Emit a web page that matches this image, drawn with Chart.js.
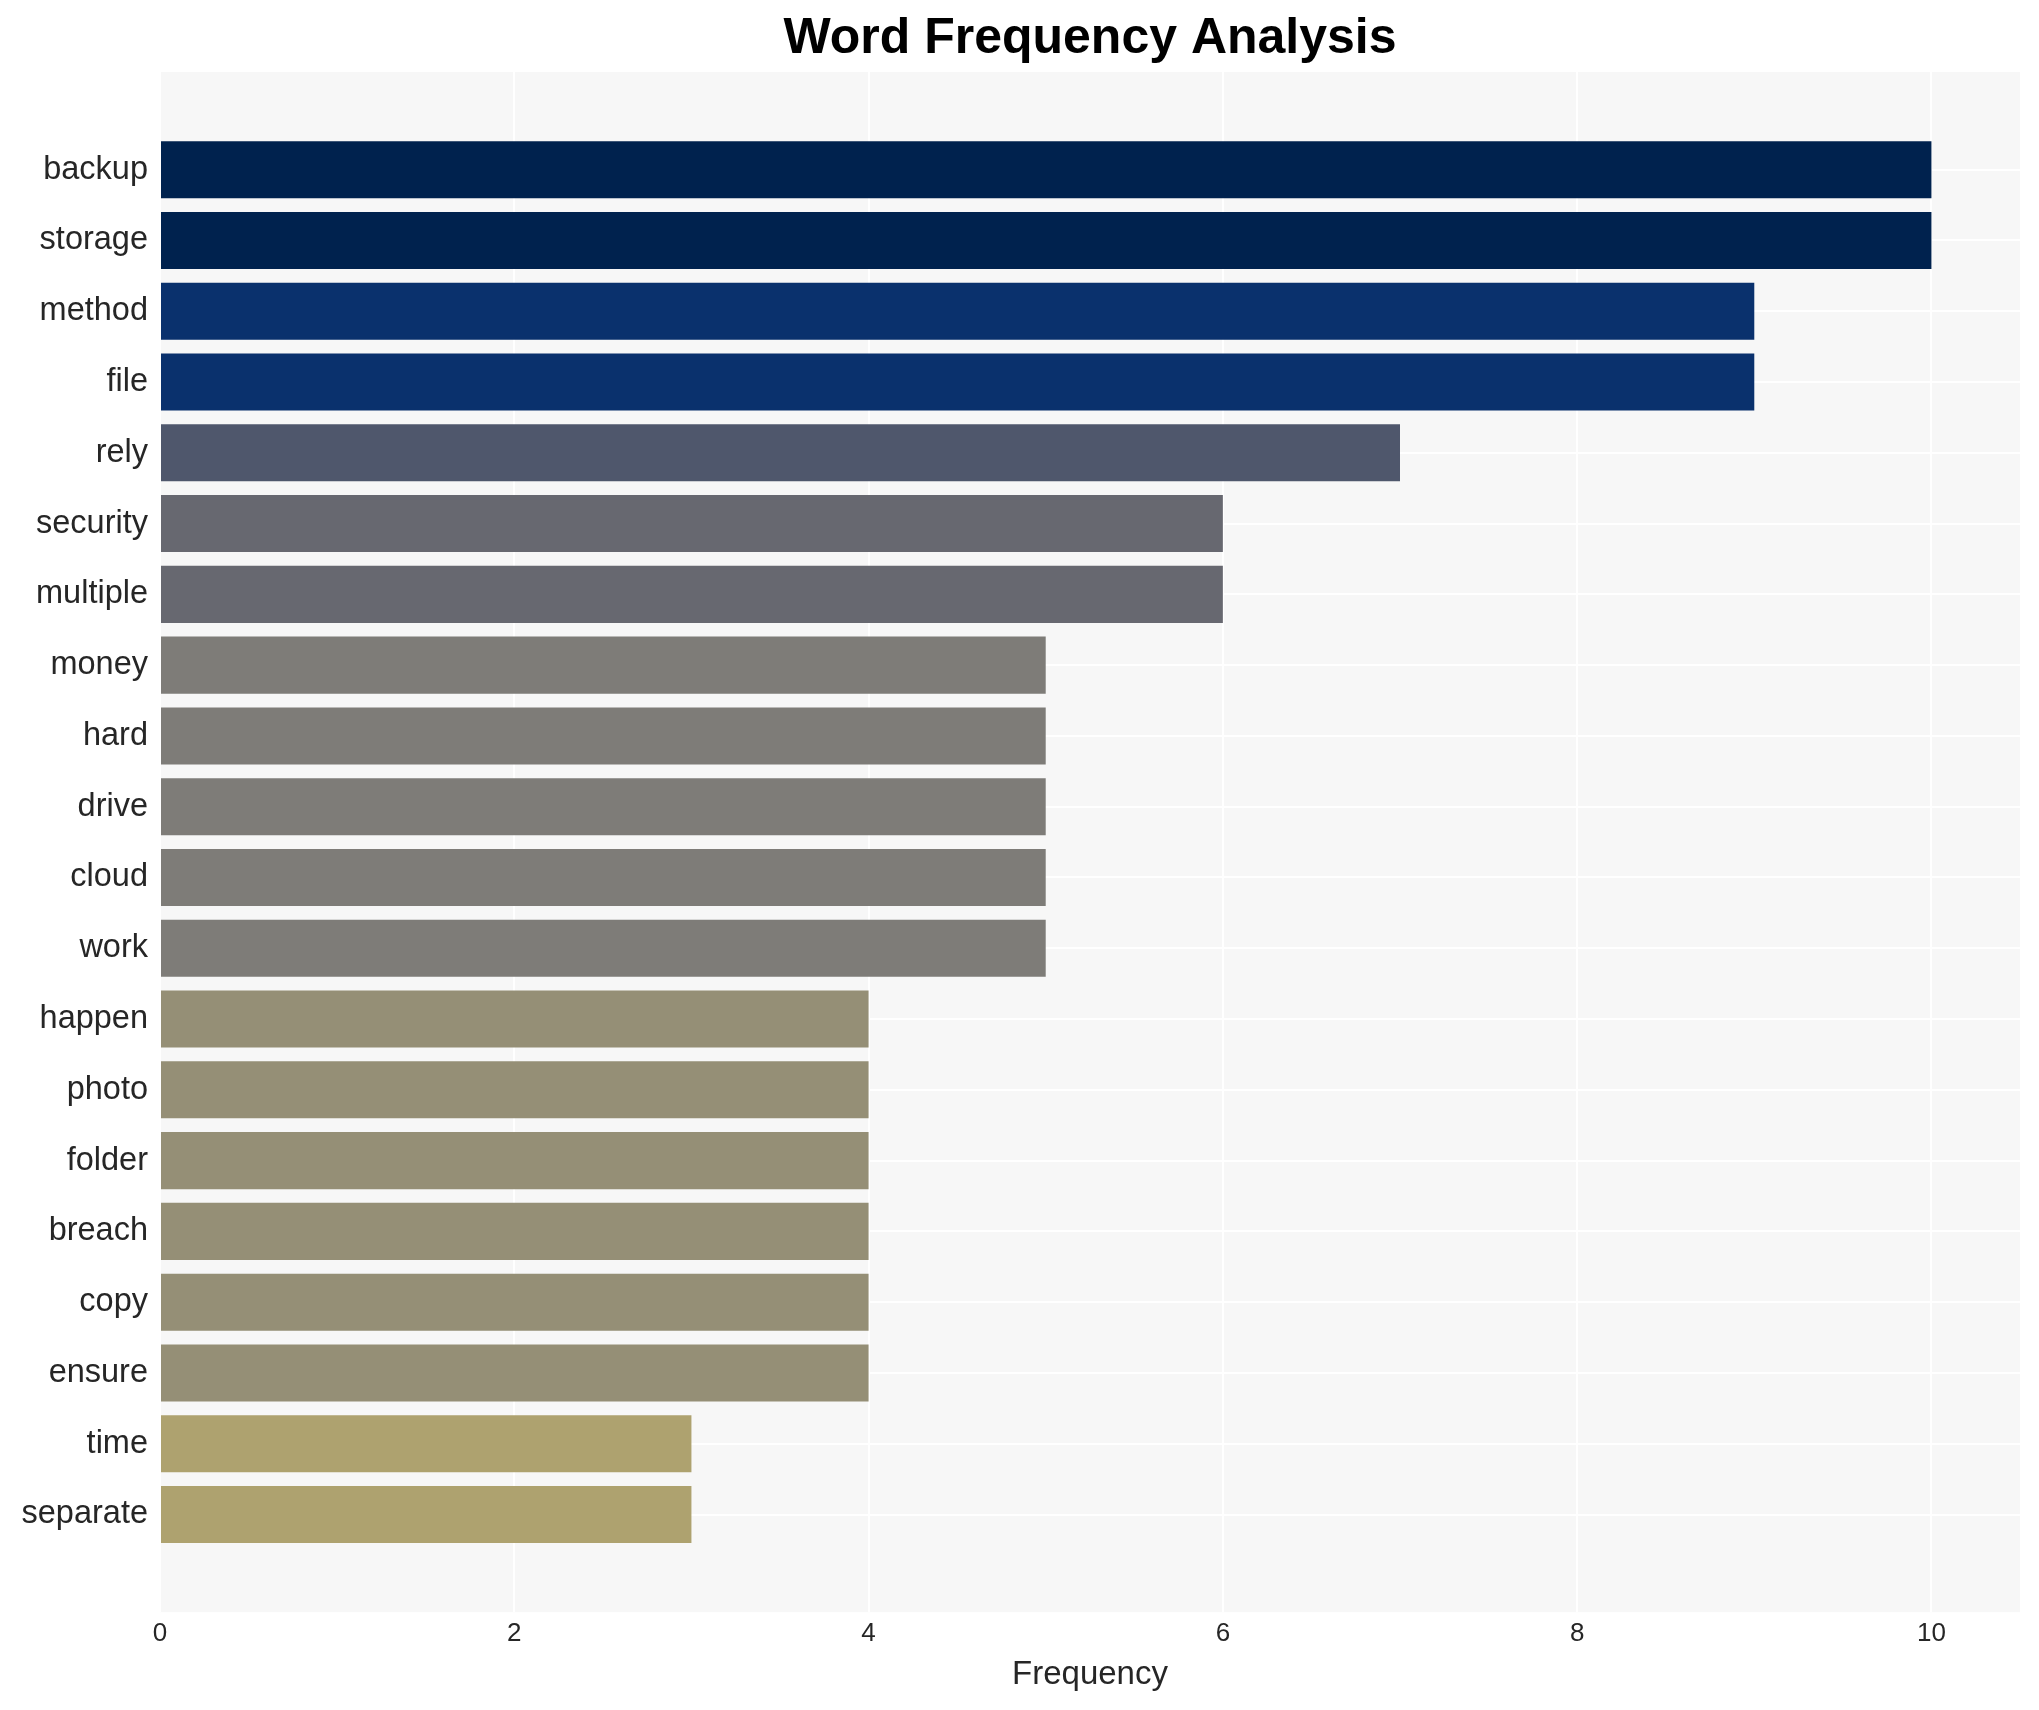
<!DOCTYPE html>
<html>
<head>
<meta charset="utf-8">
<title>Word Frequency Analysis</title>
<script src="https://cdn.jsdelivr.net/npm/chart.js@4"></script>
<style>
  html, body { margin: 0; padding: 0; background: #ffffff; }
  #wrap { width: 2039px; height: 1710px; position: relative; }
</style>
</head>
<body>
<div id="wrap"><canvas id="chart"></canvas></div>
<script>
// words, top to bottom
const words = ['backup', 'storage', 'method', 'file', 'rely', 'security', 'multiple',
    'money', 'hard', 'drive', 'cloud', 'work', 'happen', 'photo', 'folder',
    'breach', 'copy', 'ensure', 'time', 'separate'];
const counts = [10, 10, 9, 9, 7, 6, 6, 5, 5, 5, 5, 5, 4, 4, 4, 4, 4, 4, 3, 3];
const xTicks = [0, 2, 4, 6, 8, 10];

// colour for each frequency (cividis-like)
const freqColors = {
    10: '#00224E',
    9: '#0A316D',
    7: '#4F576C',
    6: '#676870',
    5: '#7E7C78',
    4: '#958F76',
    3: '#AEA26F'
};

const fontFamily = "'Liberation Sans', Arial, Helvetica, sans-serif";
const textColor = '#262626';

// axis ranges (padding around the data like the original)
const xMin = 0, xMax = 10.5;
const yMin = -1.38, yMax = words.length - 1 + 1.38;

// light grey panel behind the bars
const panelBg = {
    id: 'panelBg',
    beforeDraw(chart) {
        const a = chart.chartArea;
        const ctx = chart.ctx;
        ctx.save();
        ctx.fillStyle = '#F7F7F7';
        ctx.fillRect(a.left, a.top, a.right - a.left, a.bottom - a.top);
        ctx.restore();
    }
};

const points = counts.map((c, i) => ({ x: c, y: i }));

const ctx = document.getElementById('chart').getContext('2d');
new Chart(ctx, {
    type: 'bar',
    data: {
        datasets: [{
            data: points,
            backgroundColor: counts.map(c => freqColors[c]),
            borderWidth: 0,
            categoryPercentage: 1.0,
            barPercentage: 0.806
        }]
    },
    options: {
        indexAxis: 'y',
        responsive: true,
        maintainAspectRatio: false,
        animation: false,
        layout: { padding: { left: 0, right: 19, top: 0, bottom: 0 } },
        plugins: {
            legend: { display: false },
            tooltip: { enabled: false },
            title: {
                display: true,
                fullSize: false, // centre over the panel, not the canvas
                text: 'Word Frequency Analysis',
                color: '#000000',
                font: { family: fontFamily, size: 50, weight: 'bold' },
                padding: { top: 9, bottom: 3 }
            }
        },
        scales: {
            x: {
                type: 'linear',
                min: xMin,
                max: xMax,
                offset: false,
                border: { display: false },
                grid: { color: '#FFFFFF', lineWidth: 2, drawTicks: false, offset: false },
                ticks: {
                    stepSize: 2,
                    padding: 6,
                    color: textColor,
                    font: { family: fontFamily, size: 26 }
                },
                afterBuildTicks: (s) => {
                    s.ticks = xTicks.map(v => ({ value: v }));
                    s.min = xMin;
                    s.max = xMax;
                },
                title: {
                    display: true,
                    text: 'Frequency',
                    color: textColor,
                    font: { family: fontFamily, size: 33 },
                    padding: { top: 0, bottom: 15 }
                }
            },
            y: {
                type: 'linear',
                reverse: true,
                min: yMin,
                max: yMax,
                offset: false,
                border: { display: false },
                grid: { color: '#FFFFFF', lineWidth: 2, drawTicks: false, offset: false },
                ticks: {
                    stepSize: 1,
                    padding: 12,
                    color: textColor,
                    font: { family: fontFamily, size: 32.5 },
                    callback: (v) => words[v]
                },
                afterBuildTicks: (s) => {
                    s.ticks = words.map((w, i) => ({ value: i }));
                    s.min = yMin;
                    s.max = yMax;
                },
                afterFit: (s) => { s.width = 160; }
            }
        }
    },
    plugins: [panelBg]
});
</script>
</body>
</html>
